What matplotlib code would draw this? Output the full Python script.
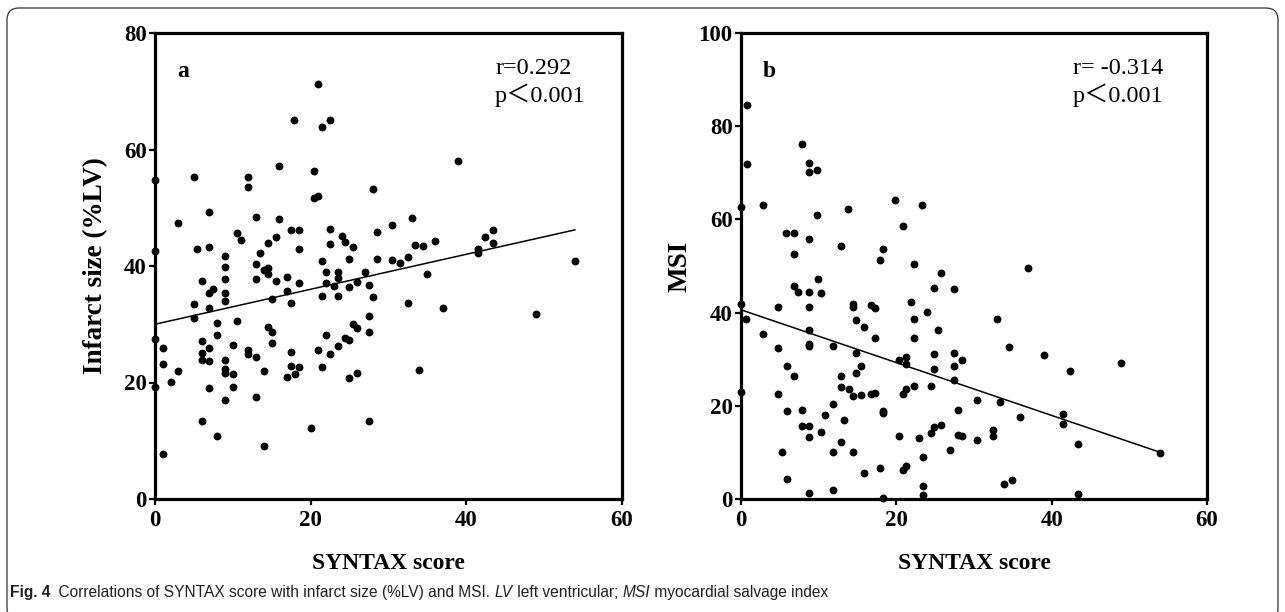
import matplotlib
matplotlib.use("Agg")
import matplotlib.pyplot as plt
from matplotlib.patches import FancyBboxPatch
from matplotlib.transforms import IdentityTransform

# panel a: SYNTAX score vs infarct size (%LV)
syntax_a = [21.0, 17.9, 22.5, 21.5, 16.0, 20.5, 0, 5.0, 12.0, 12.0, 20.5, 21.0, 28.0,
            7.0, 3.0, 13.0, 16.0, 17.5, 18.5, 22.5, 28.5, 30.5, 33.0, 0, 5.4, 7.0,
            10.5, 11.0, 14.5, 15.5, 13.5, 18.5, 24.0, 24.5, 25.5, 22.5, 21.5, 25.0,
            28.5, 30.5, 31.5, 32.5, 33.5, 34.5, 36.0, 9.0, 9.0, 13.0, 39.0, 42.5,
            43.5, 43.5, 41.5, 41.5, 54.0, 9.0, 9.0, 9.0, 6.0, 5.0, 5.0, 7.0, 7.5,
            7.0, 0, 1.0, 1.0, 3.0, 2.0, 0, 1.0, 6.0, 6.0, 6.0, 7.0, 7.0, 8.0, 8.0,
            10.5, 10.0, 9.0, 9.0, 9.0, 10.0, 7.0, 10.0, 9.0, 6.0, 8.0, 13.0, 14.0,
            14.5, 14.5, 15.5, 15.0, 17.0, 18.5, 17.0, 17.5, 14.5, 15.0, 15.0, 12.0,
            12.0, 13.0, 14.0, 13.0, 14.0, 17.5, 17.5, 18.5, 17.0, 18.0, 20.0, 22.0,
            22.0, 21.5, 23.0, 23.5, 23.5, 23.5, 25.0, 26.0, 27.0, 27.5, 28.0, 27.5,
            27.5, 25.5, 26.0, 24.5, 25.0, 23.5, 22.5, 21.0, 21.5, 22.0, 25.0, 26.0,
            27.5, 35.0, 32.5, 34.0, 37.0, 49.0]
infarct = [71.2, 65.0, 65.0, 63.9, 57.2, 56.3, 54.8, 55.2, 55.3, 53.6, 51.7, 52.0, 53.2,
           49.2, 47.3, 48.4, 48.0, 46.2, 46.2, 46.3, 45.9, 47.1, 48.2, 42.5, 42.9, 43.3,
           45.7, 44.5, 43.9, 44.9, 42.2, 42.9, 45.2, 44.1, 43.3, 43.8, 40.9, 41.2,
           41.2, 41.1, 40.5, 41.6, 43.6, 43.5, 44.3, 41.8, 39.9, 40.3, 58.1, 45.0,
           46.1, 44.0, 43.0, 42.2, 40.9, 37.7, 35.3, 34.0, 37.4, 33.4, 31.0, 35.4, 36.0,
           32.8, 27.4, 25.9, 23.1, 22.0, 20.1, 19.3, 7.7, 27.2, 25.0, 23.8, 26.0, 23.7,
           30.2, 28.2, 30.6, 26.4, 23.9, 22.4, 21.6, 21.4, 19.1, 19.3, 17.0, 13.4, 10.9,
           37.7, 39.3, 39.6, 38.6, 37.5, 34.3, 38.1, 37.1, 35.7, 33.6, 29.6, 28.6, 26.7,
           25.5, 24.9, 24.4, 22.0, 17.5, 9.1, 25.3, 22.9, 22.6, 21.0, 21.4, 12.2, 39.0,
           37.1, 34.8, 36.6, 38.9, 37.9, 34.9, 36.4, 37.3, 39.0, 36.7, 34.7, 31.4,
           28.7, 30.0, 29.4, 27.6, 27.3, 26.3, 24.9, 25.6, 22.7, 28.2, 20.7, 21.6,
           13.4, 38.7, 33.7, 22.1, 32.8, 31.7]
fit_a = (30.0, 46.2)          # fitted line at x=0 and x=54
stats_a = ("r=0.292", "p\uff1c0.001")

# panel b: SYNTAX score vs MSI
syntax_b = [0.8, 0.8, 7.8, 8.8, 8.8, 9.8, 0, 2.8, 9.8, 13.8, 19.8, 23.3, 20.8, 5.8, 6.8,
            8.8, 6.8, 12.9, 18.3, 17.9, 22.3, 37.0, 25.8, 9.9, 6.8, 7.4, 8.8, 10.3,
            24.9, 27.4, 0, 4.8, 8.8, 14.4, 14.4, 16.8, 17.3, 21.9, 23.9, 0.7, 14.8,
            22.3, 15.8, 25.4, 2.8, 8.8, 8.8, 8.8, 17.3, 22.3, 4.8, 11.8, 14.8, 20.3,
            21.3, 21.3, 24.9, 27.4, 28.4, 5.9, 6.8, 15.4, 14.8, 12.9, 24.9, 27.4, 27.4,
            0, 4.8, 12.9, 13.9, 14.4, 15.4, 16.8, 17.3, 20.8, 21.3, 22.3, 24.4, 5.9,
            7.8, 11.8, 10.8, 13.3, 18.3, 18.3, 27.9, 30.4, 7.8, 8.8, 8.8, 10.3, 12.9,
            20.3, 22.9, 24.4, 24.9, 25.8, 27.9, 28.4, 30.4, 26.9, 23.4, 5.3, 11.8,
            14.4, 17.9, 15.8, 20.8, 21.3, 5.9, 8.8, 11.8, 18.3, 23.4, 23.4, 32.9,
            34.5, 39.0, 42.4, 48.9, 33.4, 35.9, 41.4, 41.4, 32.4, 32.4, 43.4, 53.9,
            33.9, 34.9, 43.4]
msi = [84.6, 71.9, 76.1, 72.1, 70.2, 70.6, 62.6, 63.1, 60.9, 62.3, 64.2, 63.0, 58.6, 57.1,
       57.1, 55.8, 52.6, 54.2, 53.6, 51.3, 50.5, 49.6, 48.5, 47.3, 45.8, 44.5, 44.5,
       44.3, 45.3, 45.1, 41.9, 41.3, 41.2, 41.8, 41.1, 41.7, 41.0, 42.3, 40.1, 38.6,
       38.5, 38.7, 36.9, 36.3, 35.4, 36.3, 33.3, 32.8, 34.6, 34.6, 32.4, 32.8, 31.3,
       29.9, 30.4, 29.0, 31.1, 31.4, 29.8, 28.5, 26.3, 28.6, 27.0, 26.5, 27.9, 28.5,
       25.6, 22.9, 22.6, 24.1, 23.5, 22.2, 22.3, 22.6, 22.8, 22.6, 23.5, 24.3, 24.2,
       18.8, 19.1, 20.4, 18.1, 17.0, 18.8, 18.4, 19.0, 21.3, 15.6, 15.6, 13.2, 14.3,
       12.2, 13.6, 13.1, 14.2, 15.5, 15.8, 13.7, 13.6, 12.7, 10.6, 9.0, 10.0, 10.1,
       10.0, 6.6, 5.5, 6.2, 7.0, 4.3, 1.3, 1.9, 0.3, 2.7, 0.8, 38.6, 32.6, 30.9,
       27.5, 29.2, 20.8, 17.5, 18.3, 16.0, 14.9, 13.6, 11.9, 9.9, 3.3, 4.0, 1.1]
fit_b = (40.6, 10.0)
stats_b = ("r= -0.314", "p\uff1c0.001")

fit_x = (0, 54)
xticks = [0, 20, 40, 60]

SERIF = ["Liberation Serif", "Noto Sans CJK SC", "DejaVu Serif"]
W, H = 1285, 612

fig = plt.figure(figsize=(W / 100, H / 100), dpi=100)

panels = [
    dict(rect=[155 / W, 113 / H, 466.5 / W, 466 / H], x=syntax_a, y=infarct,
         fit=fit_a, ymax=80, yticks=[0, 20, 40, 60, 80], ylabel="Infarct size (%LV)",
         ypad=11, tag="a", stats=stats_a, sx=0.729),
    dict(rect=[741 / W, 113 / H, 466 / W, 466 / H], x=syntax_b, y=msi,
         fit=fit_b, ymax=100, yticks=[0, 20, 40, 60, 80, 100], ylabel="MSI",
         ypad=4, tag="b", stats=stats_b, sx=0.712),
]

for p in panels:
    ax = fig.add_axes(p["rect"])
    ax.scatter(p["x"], p["y"], s=32, color="black", zorder=3, clip_on=False,
               linewidths=0)
    ax.plot(fit_x, p["fit"], color="black", lw=1.1)
    ax.set_xlim(0, 60)
    ax.set_ylim(0, p["ymax"])
    ax.set_xticks(xticks)
    ax.set_yticks(p["yticks"])
    for s in ax.spines.values():
        s.set_linewidth(2.3)
    ax.tick_params(direction="out", length=4.5, width=1.6, pad=1.5)
    ax.tick_params(axis="x", pad=3.5)
    for lab in ax.get_xticklabels() + ax.get_yticklabels():
        lab.set_fontfamily(SERIF)
        lab.set_fontweight("bold")
        lab.set_fontsize(16.5)
    ax.set_xlabel("SYNTAX score", family=SERIF, weight="bold", fontsize=17,
                  labelpad=16)
    ax.set_ylabel(p["ylabel"], family=SERIF, weight="bold", fontsize=19.5,
                  labelpad=p["ypad"])
    ax.text(0.047, 0.906, p["tag"], transform=ax.transAxes, family=SERIF,
            weight="bold", fontsize=17, va="baseline")
    ax.text(p["sx"], 0.912, p["stats"][0], transform=ax.transAxes, family=SERIF,
            fontsize=17.5, va="baseline")
    ax.text(p["sx"], 0.853, p["stats"][1], transform=ax.transAxes, family=SERIF,
            fontsize=17.5, va="baseline")

# rounded frame round the whole figure
frame = FancyBboxPatch((7, -8), W - 14, H, boxstyle="round,pad=0,rounding_size=12",
                       transform=IdentityTransform(), fill=False, edgecolor="#333333",
                       lw=0.9)
fig.add_artist(frame)

# caption, pieces in mixed styles
CAP = ["Liberation Sans Narrow", "Liberation Sans", "DejaVu Sans"]
pieces = [("Fig. 4", "bold", "normal"),
          ("  Correlations of SYNTAX score with infarct size (%LV) and MSI. ", "normal", "normal"),
          ("LV", "normal", "italic"),
          (" left ventricular; ", "normal", "normal"),
          ("MSI", "normal", "italic"),
          (" myocardial salvage index", "normal", "normal")]
renderer = fig.canvas.get_renderer()
x = 10
for txt, wt, st in pieces:
    t = fig.text(x / W, (H - 597) / H, txt, family=CAP, weight=wt, style=st,
                 fontsize=11.2, color="#231f20", va="baseline")
    x += t.get_window_extent(renderer).width

fig.savefig("out.png", dpi=100)
